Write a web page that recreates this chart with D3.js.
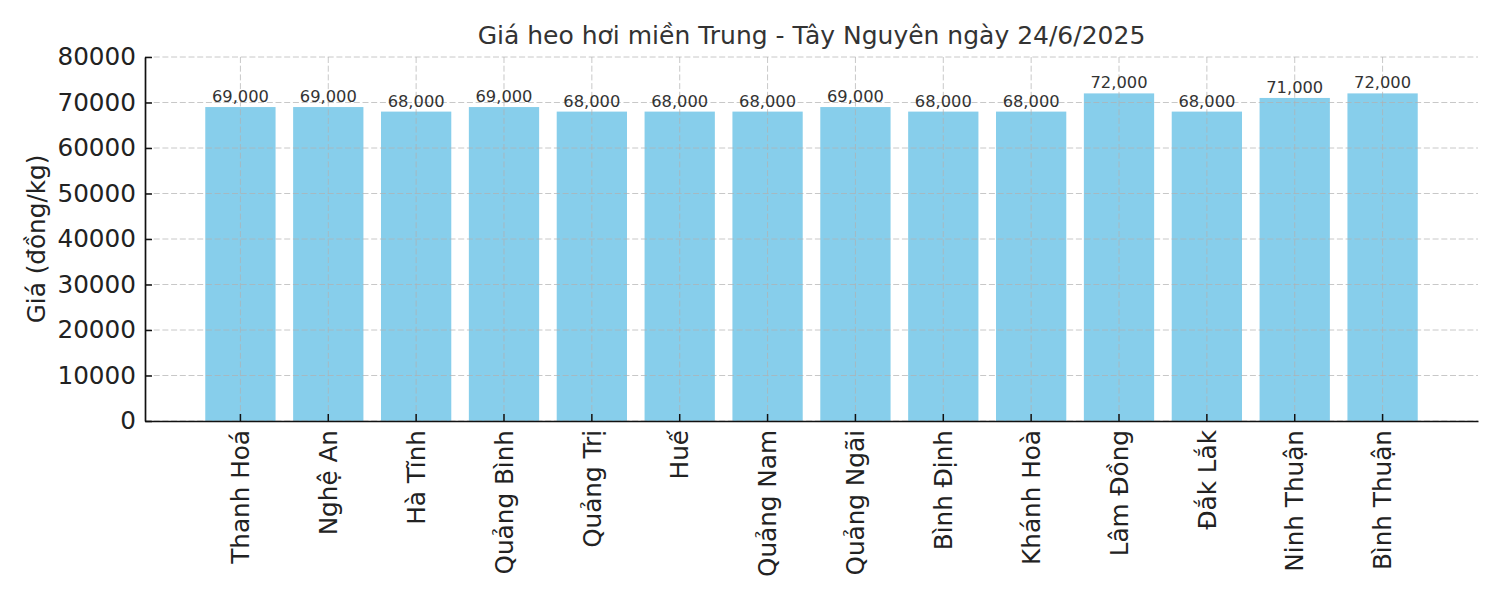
<!DOCTYPE html>
<html><head><meta charset="utf-8">
<script src="https://cdn.jsdelivr.net/npm/d3@7"></script>
<style>body{margin:0;background:#fff;} text{font-family:"DejaVu Sans",sans-serif;}</style>
</head><body>
<svg id="c" width="1500" height="600"></svg>
<script>
const categories = ["Thanh Hoá","Nghệ An","Hà Tĩnh","Quảng Bình","Quảng Trị","Huế","Quảng Nam","Quảng Ngãi","Bình Định","Khánh Hoà","Lâm Đồng","Đắk Lắk","Ninh Thuận","Bình Thuận"];
const prices = [69000,69000,68000,69000,68000,68000,68000,69000,68000,68000,72000,68000,71000,72000];
const yTicks = [0,10000,20000,30000,40000,50000,60000,70000,80000];
const title = "Giá heo hơi miền Trung - Tây Nguyên ngày 24/6/2025";
const yLabel = "Giá (đồng/kg)";

const svg = d3.select("#c");
const L = 145, R = 1478, T = 57, B = 421;
const x = d3.scaleBand().domain(categories).range([L, R]).paddingInner(0.2).paddingOuter(0.686);
const y = d3.scaleLinear().domain([0, 80000]).range([B, T]);

// bars
svg.append("g").selectAll("rect").data(prices).join("rect")
  .attr("x", (d,i) => x(categories[i])).attr("width", x.bandwidth())
  .attr("y", d => y(d)).attr("height", d => y(0) - y(d))
  .attr("fill", "#87CEEB");

// grid (on top)
const grid = svg.append("g").attr("stroke", "#b0b0b0").attr("stroke-opacity", 0.7)
  .attr("stroke-width", 1).attr("stroke-dasharray", "6,2.7");
grid.selectAll("line.h").data(yTicks).join("line").attr("class","h")
  .attr("x1", L).attr("x2", R).attr("y1", d => y(d)).attr("y2", d => y(d));
grid.selectAll("line.v").data(categories).join("line").attr("class","v")
  .attr("x1", d => x(d) + x.bandwidth()/2).attr("x2", d => x(d) + x.bandwidth()/2)
  .attr("y1", T).attr("y2", B);

// value labels
svg.append("g").selectAll("text").data(prices).join("text")
  .attr("x", (d,i) => x(categories[i]) + x.bandwidth()/2)
  .attr("y", d => y(d) - 5)
  .attr("text-anchor", "middle").attr("font-size", 16.3).attr("fill", "#333")
  .text(d => d3.format(",")(d));

// y axis
const yAxis = d3.axisLeft(y).tickValues(yTicks).tickSizeInner(-7).tickSizeOuter(0).tickPadding(9).tickFormat(d3.format("d"));
const gy = svg.append("g").attr("transform", `translate(${L},0)`).call(yAxis);
gy.select(".domain").attr("stroke", "#111").attr("stroke-width", 1.7);
gy.selectAll(".tick line").attr("stroke", "#111").attr("stroke-width", 1.5);
gy.selectAll(".tick text").attr("font-size", 24.7).attr("fill", "#222").attr("font-family", "DejaVu Sans");

// x axis
const xAxis = d3.axisBottom(x).tickSizeInner(-7).tickSizeOuter(0).tickPadding(0);
const gx = svg.append("g").attr("transform", `translate(0,${B})`).call(xAxis);
gx.select(".domain").attr("stroke", "#111").attr("stroke-width", 1.7);
gx.selectAll(".tick line").attr("stroke", "#111").attr("stroke-width", 1.5);
gx.selectAll(".tick text").attr("font-size", 24.7).attr("fill", "#222").attr("font-family", "DejaVu Sans")
  .attr("transform", "rotate(-90)").attr("text-anchor", "end").attr("x", -9).attr("y", 0).attr("dy", "0.35em");

// title
svg.append("text").attr("x", (L + R)/2).attr("y", 44).attr("text-anchor", "middle")
  .attr("font-size", 25).attr("fill", "#333").text(title);

// y label
svg.append("text").attr("transform", `translate(45,${(T+B)/2}) rotate(-90)`).attr("text-anchor", "middle")
  .attr("font-size", 24.7).attr("fill", "#222").text(yLabel);
</script>
</body></html>
